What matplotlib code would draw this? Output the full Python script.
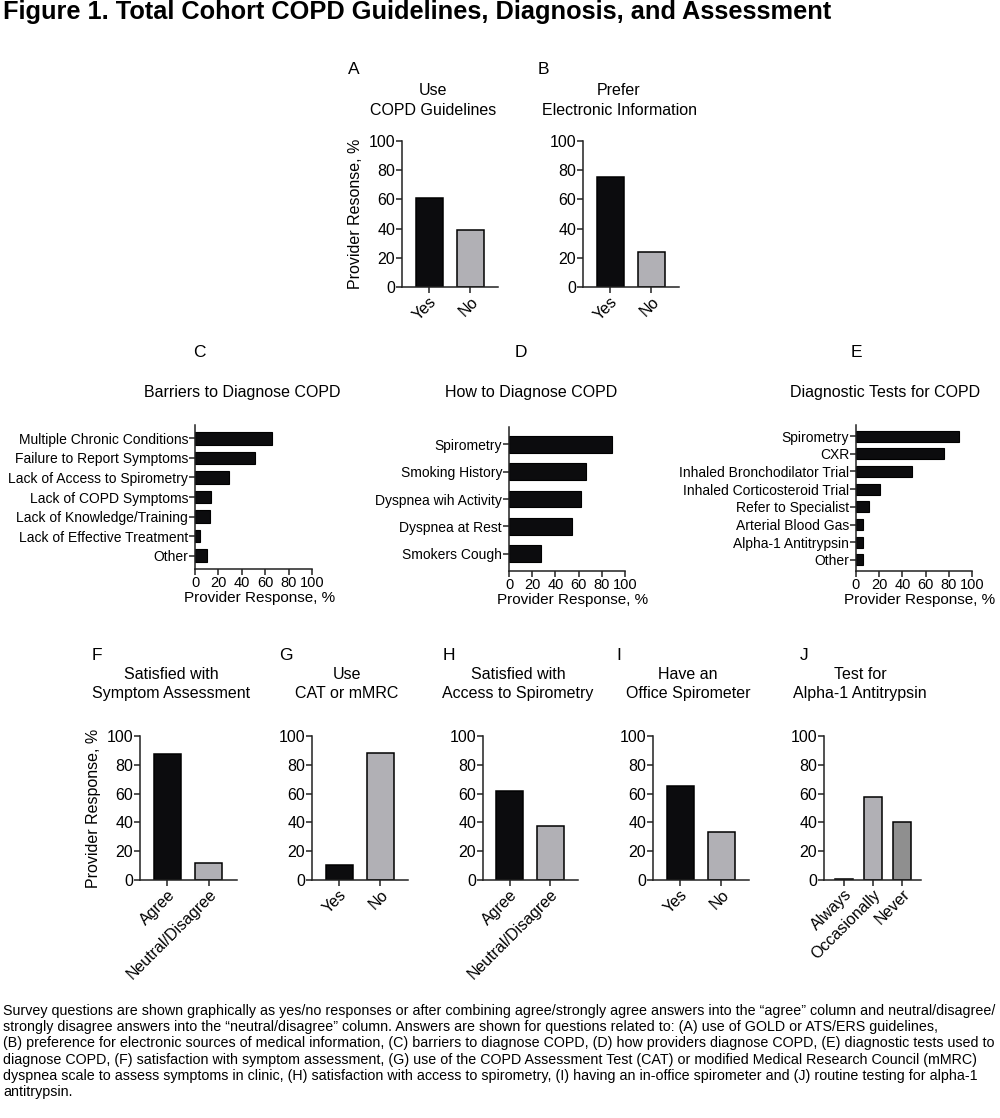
import numpy as np
import matplotlib
matplotlib.use("Agg")
import matplotlib.pyplot as plt

plt.rcParams['font.family'] = ['Liberation Sans', 'DejaVu Sans']

# values (percent of providers)
a_labels = ['Yes', 'No']
a_vals = [61, 39]
b_labels = ['Yes', 'No']
b_vals = [75.5, 24]

c_labels = ['Multiple Chronic Conditions', 'Failure to Report Symptoms',
            'Lack of Access to Spirometry', 'Lack of COPD Symptoms',
            'Lack of Knowledge/Training', 'Lack of Effective Treatment', 'Other']
c_vals = [65.5, 51, 29, 14, 13, 4, 10]

d_labels = ['Spirometry', 'Smoking History', 'Dyspnea wih Activity',
            'Dyspnea at Rest', 'Smokers Cough']
d_vals = [89, 66, 62, 54, 27.5]

e_labels = ['Spirometry', 'CXR', 'Inhaled Bronchodilator Trial',
            'Inhaled Corticosteroid Trial', 'Refer to Specialist',
            'Arterial Blood Gas', 'Alpha-1 Antitrypsin', 'Other']
e_vals = [89, 75.5, 48, 21, 11, 6, 6, 6]

f_labels = ['Agree', 'Neutral/Disagree']
f_vals = [87.5, 12]
g_labels = ['Yes', 'No']
g_vals = [10.5, 88.5]
h_labels = ['Agree', 'Neutral/Disagree']
h_vals = [62, 37.7]
i_labels = ['Yes', 'No']
i_vals = [65.5, 33.3]
j_labels = ['Always', 'Occasionally', 'Never']
j_vals = [0.7, 57.4, 40.5]

BLACK = '#0c0c0e'
GREY = '#b1b0b5'
DGREY = '#8f8f8f'
W, H = 1000, 1118

fig = plt.figure(figsize=(W / 100, H / 100), dpi=100)


def ax_px(x0, x1, y0, y1):
    return fig.add_axes([x0 / W, 1 - y1 / H, (x1 - x0) / W, (y1 - y0) / H])


def ftext(x, y, s, **kw):
    fig.text(x / W, 1 - y / H, s, **kw)


def style(ax):
    for s in ['top', 'right']:
        ax.spines[s].set_visible(False)
    for s in ['left', 'bottom']:
        ax.spines[s].set_linewidth(1.1)
        ax.spines[s].set_color('#222222')
    ax.tick_params(direction='out', length=4, width=1.1, color='#222222',
                   labelsize=11.5, pad=1)


def vbar(box, labels, vals, colors, ylabel=None):
    ax = ax_px(*box)
    x = np.arange(len(vals))
    w = 0.66 if len(vals) == 2 else 0.6
    ax.bar(x, vals, width=w, color=colors, edgecolor='black', linewidth=1.1)
    ax.set_ylim(0, 100)
    ax.set_yticks([0, 20, 40, 60, 80, 100])
    if len(vals) == 2:
        ax.set_xlim(-0.66, 1.68)
    else:
        ax.set_xlim(-0.69, 2.65)
    ax.set_xticks(x)
    ax.set_xticklabels(labels, rotation=45, ha='right', va='top',
                       rotation_mode='anchor', fontsize=10.5)
    style(ax)
    if ylabel:
        ax.set_ylabel(ylabel, fontsize=11.5, labelpad=4)
    return ax


def hbar(box, labels, vals, gap, h):
    ax = ax_px(*box)
    y = np.arange(len(vals))
    ax.barh(y, vals, height=h, color=BLACK, edgecolor='black', linewidth=0.8)
    ax.set_ylim(len(vals) - 1 + gap, -gap)
    ax.set_xlim(0, 100)
    ax.set_xticks([0, 20, 40, 60, 80, 100])
    ax.set_yticks(y)
    ax.set_yticklabels(labels)
    style(ax)
    ax.tick_params(axis='y', labelsize=10)
    ax.tick_params(axis='x', labelsize=10.5)
    ax.set_xlabel('Provider Response, %', fontsize=11)
    ax.xaxis.set_label_coords(0.55, -0.15)
    return ax


# top row
vbar((402, 498, 141, 287), a_labels, a_vals, [BLACK, GREY],
     ylabel='Provider Resonse, %')
vbar((583, 679, 141, 287), b_labels, b_vals, [BLACK, GREY])
ftext(348, 69, 'A', fontsize=12.5, va='center')
ftext(538, 69, 'B', fontsize=12.5, va='center')
ftext(433, 100.5, 'Use\nCOPD Guidelines', fontsize=11.5, ha='center', va='center',
      linespacing=1.35)
ftext(619, 100.5, 'Prefer\nElectronic Information', fontsize=11.5, ha='center',
      va='center', linespacing=1.35)

# middle row
hbar((195, 312, 425, 569), c_labels, c_vals, 0.68, 0.65)
hbar((509, 625, 427, 571), d_labels, d_vals, 0.64, 0.62)
hbar((856, 972, 425, 571), e_labels, e_vals, 0.63, 0.61)
ftext(193, 352, 'C', fontsize=12.5, va='center')
ftext(515, 352, 'D', fontsize=12.5, va='center')
ftext(851, 352, 'E', fontsize=12.5, va='center')
ftext(242, 393, 'Barriers to Diagnose COPD', fontsize=11.5, ha='center', va='center')
ftext(531, 393, 'How to Diagnose COPD', fontsize=11.5, ha='center', va='center')
ftext(885, 393, 'Diagnostic Tests for COPD', fontsize=11.5, ha='center', va='center')

# bottom row
vbar((140, 237, 736, 880), f_labels, f_vals, [BLACK, GREY],
     ylabel='Provider Response, %')
vbar((312, 408, 736, 880), g_labels, g_vals, [BLACK, GREY])
vbar((483, 578, 736, 880), h_labels, h_vals, [BLACK, GREY])
vbar((653, 749, 736, 880), i_labels, i_vals, [BLACK, GREY])
vbar((824, 921, 736, 880), j_labels, j_vals, [BLACK, GREY, DGREY])

bottom_titles = [
    (92, 171, 'F', 'Satisfied with\nSymptom Assessment'),
    (279, 347, 'G', 'Use\nCAT or mMRC'),
    (443, 518, 'H', 'Satisfied with\nAccess to Spirometry'),
    (616, 688, 'I', 'Have an\nOffice Spirometer'),
    (800, 860, 'J', 'Test for\nAlpha-1 Antitrypsin'),
]
for lx, tx, letter, title in bottom_titles:
    ftext(lx, 655, letter, fontsize=12.5, va='center')
    ftext(tx, 684, title, fontsize=11.5, ha='center', va='center', linespacing=1.35)

# figure title
ftext(3, 19, 'Figure 1. Total Cohort COPD Guidelines, Diagnosis, and Assessment',
      fontsize=18.3, fontweight='bold', va='baseline')

caption = (
    "Survey questions are shown graphically as yes/no responses or after combining "
    "agree/strongly agree answers into the \u201cagree\u201d column and neutral/disagree/\n"
    "strongly disagree answers into the \u201cneutral/disagree\u201d column. Answers are shown "
    "for questions related to: (A) use of GOLD or ATS/ERS guidelines,\n"
    "(B) preference for electronic sources of medical information, (C) barriers to "
    "diagnose COPD, (D) how providers diagnose COPD, (E) diagnostic tests used to\n"
    "diagnose COPD, (F) satisfaction with symptom assessment, (G) use of the COPD "
    "Assessment Test (CAT) or modified Medical Research Council (mMRC)\n"
    "dyspnea scale to assess symptoms in clinic, (H) satisfaction with access to "
    "spirometry, (I) having an in-office spirometer and (J) routine testing for alpha-1\n"
    "antitrypsin."
)
ftext(3, 1004, caption, fontsize=10.3, va='top', linespacing=1.2)

fig.savefig('out.png', dpi=100)
